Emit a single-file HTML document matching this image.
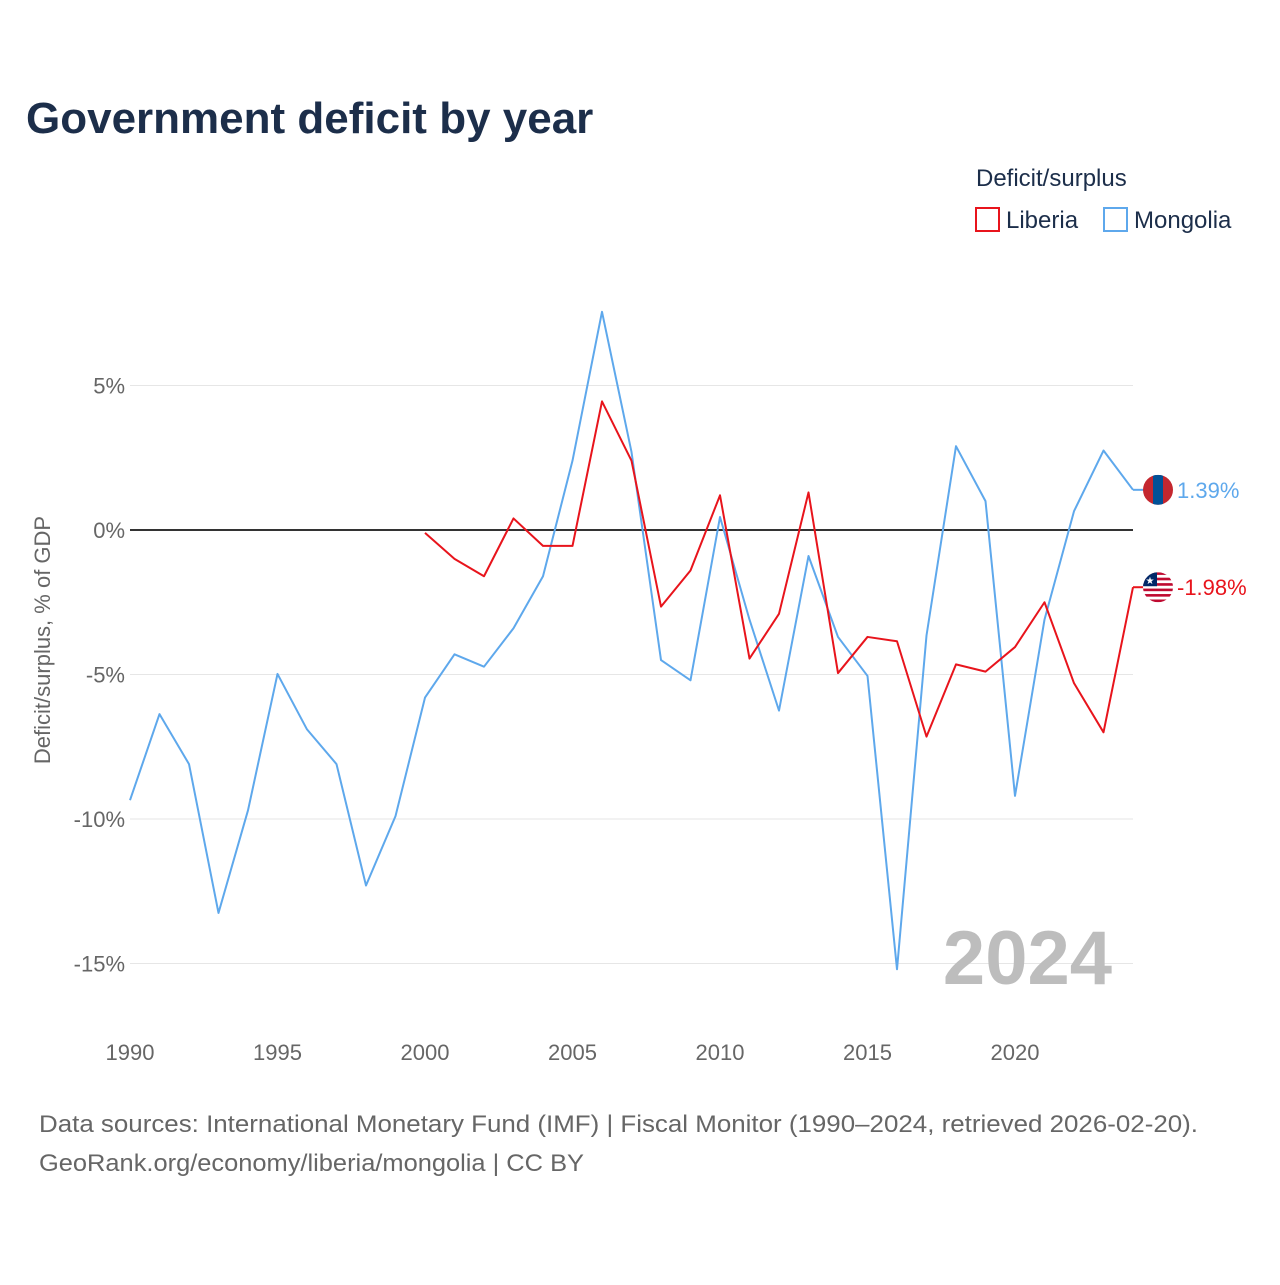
<!DOCTYPE html>
<html><head><meta charset="utf-8"><style>
body{margin:0;background:#fff;font-family:"Liberation Sans",sans-serif}
svg text{font-family:"Liberation Sans",sans-serif}
</style></head><body>
<svg id="c" width="1280" height="1280">
<text x="26" y="133" font-size="44" font-weight="bold" fill="#1c2e4a">Government deficit by year</text>
<text x="976" y="186" font-size="24" fill="#1c2e4a">Deficit/surplus</text>
<g><rect x="976" y="208" width="23" height="23" fill="none" stroke="#e8141c" stroke-width="2"/><text x="1006" y="228" font-size="24" fill="#1c2e4a">Liberia</text></g>
<g><rect x="1104" y="208" width="23" height="23" fill="none" stroke="#5ea8ec" stroke-width="2"/><text x="1134" y="228" font-size="24" fill="#1c2e4a">Mongolia</text></g>
<text transform="translate(50,640) rotate(-90)" text-anchor="middle" font-size="22" fill="#666">Deficit/surplus, % of GDP</text>
<g id="grid"></g><g id="lines"></g>
<text x="1112" y="984" text-anchor="end" font-size="76" font-weight="bold" fill="#bdbdbd">2024</text>
<text x="39" y="1132" font-size="24" fill="#666" textLength="1159" lengthAdjust="spacingAndGlyphs">Data sources: International Monetary Fund (IMF) | Fiscal Monitor (1990–2024, retrieved 2026-02-20).</text>
<text x="39" y="1171" font-size="24" fill="#666" textLength="545" lengthAdjust="spacingAndGlyphs">GeoRank.org/economy/liberia/mongolia | CC BY</text>
</svg>
<script>
const yTicks=[5,0,-5,-10,-15];
const xTicks=[1990,1995,2000,2005,2010,2015,2020];
const mongoliaYears=[1990,1991,1992,1993,1994,1995,1996,1997,1998,1999,2000,2001,2002,2003,2004,2005,2006,2007,2008,2009,2010,2011,2012,2013,2014,2015,2016,2017,2018,2019,2020,2021,2022,2023,2024];
const mongolia=[-9.35,-6.37,-8.1,-13.25,-9.7,-4.98,-6.9,-8.1,-12.3,-9.9,-5.8,-4.3,-4.73,-3.4,-1.6,2.4,7.55,2.7,-4.5,-5.2,0.45,-3.1,-6.25,-0.9,-3.7,-5.05,-15.2,-3.65,2.9,1.0,-9.2,-3.1,0.65,2.75,1.39];
const liberiaYears=[2000,2001,2002,2003,2004,2005,2006,2007,2008,2009,2010,2011,2012,2013,2014,2015,2016,2017,2018,2019,2020,2021,2022,2023,2024];
const liberia=[-0.1,-1.0,-1.6,0.4,-0.55,-0.55,4.45,2.4,-2.65,-1.4,1.2,-4.45,-2.9,1.3,-4.95,-3.7,-3.85,-7.15,-4.65,-4.9,-4.05,-2.5,-5.3,-7.0,-1.98];
const X=y=>130+(y-1990)*(1133-130)/34;
const Y=v=>530-v*28.9;
const NS="http://www.w3.org/2000/svg";
function mk(t,a,p){const e=document.createElementNS(NS,t);for(const k in a)e.setAttribute(k,a[k]);p.appendChild(e);return e;}
const grid=document.getElementById('grid'),lines=document.getElementById('lines');
yTicks.forEach(v=>{
 const l=mk('line',{x1:130,x2:1133,y1:Y(v),y2:Y(v),stroke:v===0?'#333':'#e6e6e6','stroke-width':v===0?2:1},grid);
 
 
 const t=mk('text',{x:125,y:Y(v)+8,'text-anchor':'end','font-size':22,fill:'#666'},grid);t.textContent=v+'%';
 
 
});
xTicks.forEach(v=>{
 const t=mk('text',{x:X(v),y:1060,'text-anchor':'middle','font-size':22,fill:'#666'},grid);t.textContent=v;
 
 
});
function line(ys,vs,col,name){
 const p=mk('polyline',{points:ys.map((y,i)=>X(y)+','+Y(vs[i])).join(' '),fill:'none',stroke:col,'stroke-width':2,'stroke-linejoin':'round'},lines);
 
 
}
line(mongoliaYears,mongolia,'#5ea8ec','mongolia-line');
line(liberiaYears,liberia,'#e8141c','liberia-line');
function endLabel(v,col,name,flag){
 const y=Y(v),g=mk('g',{},lines);
 
 
 mk('line',{x1:1133,x2:1145,y1:y,y2:y,stroke:col,'stroke-width':2},g);
 const cp=mk('clipPath',{id:'cp'+name},g);mk('circle',{cx:1158,cy:y,r:15},cp);
 const fg=mk('g',{'clip-path':'url(#cp'+name+')'},g);
 if(flag==='mn'){mk('rect',{x:1143,y:y-15,width:30,height:30,fill:'#c4272f'},fg);mk('rect',{x:1153,y:y-15,width:10,height:30,fill:'#015197'},fg);}
 else{for(let i=0;i<11;i++)mk('rect',{x:1143,y:y-15+i*30/11,width:30,height:30/11,fill:i%2?'#fff':'#bf0a30'},fg);mk('rect',{x:1143,y:y-15,width:14,height:14,fill:'#002868'},fg);mk('text',{x:1150,y:y-3,'text-anchor':'middle','font-size':10,fill:'#fff'},fg).textContent='★';}
 const t=mk('text',{x:1177,y:y+8,'font-size':22,fill:col},g);t.textContent=v.toFixed(2)+'%';
}
endLabel(mongolia[mongolia.length-1],'#5ea8ec','mongolia-end-label','mn');
endLabel(liberia[liberia.length-1],'#e8141c','liberia-end-label','lr');
</script>
</body></html>
